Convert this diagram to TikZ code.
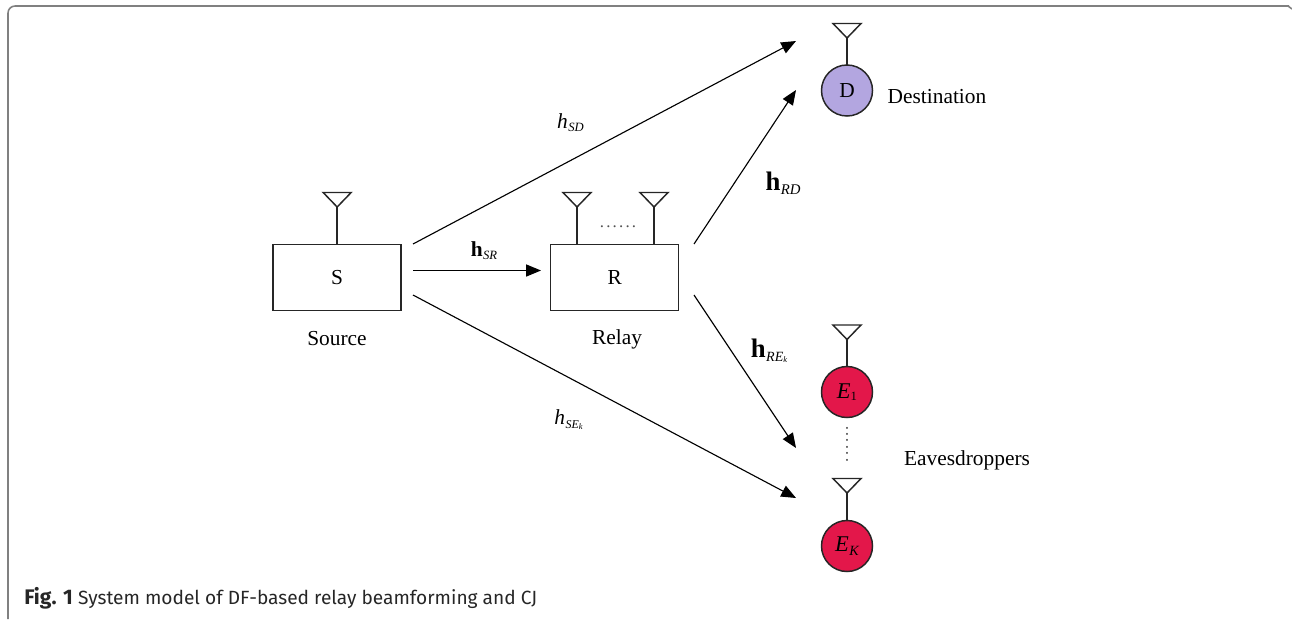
\documentclass[tikz,border=0pt]{standalone}
\usepackage{fontspec}
\setmainfont{Liberation Serif}
\newfontfamily\captionfont{Fira Sans}
\newfontfamily\dotfont[LetterSpace=13]{Liberation Serif}
\usetikzlibrary{arrows.meta}
\definecolor{Lavender}{HTML}{B3A6E0}
\definecolor{Crimson}{HTML}{E3174A}
\definecolor{FrameGray}{HTML}{808080}
\definecolor{Wire}{HTML}{262626}
\newcommand{\chan}[3]{#2\kern0.3pt\lower2.5pt\hbox{\fontsize{#1}{#1}\selectfont\itshape #3}}
\newcommand{\subE}{\lower1pt\hbox{\fontsize{6}{6}\selectfont\itshape k}}
\newcommand{\bigh}{\fontsize{19}{19}\selectfont\textbf{h}}
\newcommand{\antenna}[1]{\draw[wire] (#1) -- ++(-14,-14.5) -- ++(28,0) -- cycle;}
\tikzset{
    x=0.025cm,y=-0.025cm,
    wire/.style={draw=Wire,line width=1.05pt,line join=miter},
    link/.style={draw=black,line width=0.8pt,-{Triangle[length=10.5pt,width=8.5pt]}},
    label/.style={font=\fontsize{15.2}{15.2}\selectfont,text=black,inner sep=0pt},
    box/.style={wire,minimum width=3.2cm,minimum height=1.65cm,label,outer sep=0pt},
    station/.style={wire,circle,minimum size=1.275cm,label,outer sep=0pt},
    dots/.style={font=\dotfont\fontsize{12}{12}\selectfont,text=Wire!80,inner sep=0pt},
}

\begin{document}
\begin{tikzpicture}
    \useasboundingbox (0,0) rectangle (1292,619);
    \draw[FrameGray,line width=1.1pt,rounded corners=5pt] (8,619) -- (8,6) -- (1289,6);
    \draw[FrameGray,line width=1.1pt] (1288,6) -- (1292,9);

    % stations
    \node[box] (S) at (337.15,277.5) {S};
    \node[box] (R) at (614.65,277.5) {R};
    \node[station,fill=Lavender] (D) at (847,90.5) {D};
    \node[station,fill=Crimson] (E1) at (847,392) {\fontsize{16}{16}\selectfont\textit{E}\lower1.5pt\hbox{\fontsize{9}{9}\selectfont 1}};
    \node[station,fill=Crimson] (EK) at (847,546) {\chan{10}{\fontsize{16}{16}\selectfont\textit{E}}{K}};

    % antennas
    \coordinate (antS) at (337.15,207);
    \coordinate (antRa) at (577,207);
    \coordinate (antRb) at (654,207);
    \coordinate (footRa) at (577,244);
    \coordinate (footRb) at (654,244);
    \coordinate (antD) at (847,38);
    \coordinate (antEa) at (847,339.5);
    \coordinate (antEb) at (847,493);
    \draw[wire] (S.north) -- (antS);
    \draw[wire] (footRa) -- (antRa);
    \draw[wire] (footRb) -- (antRb);
    \draw[wire] (D.north) -- (antD);
    \draw[wire] (E1.north) -- (antEa);
    \draw[wire] (EK.north) -- (antEb);
    \antenna{antS}
    \antenna{antRa}
    \antenna{antRb}
    \antenna{antD}
    \antenna{antEa}
    \antenna{antEb}
    \node[dots] (dotsR) at (618,227) {......};
    \node[dots,rotate=90] (dotsE) at (847,444) {......};

    % names
    \node[label] (source) at (337,339) {Source};
    \node[label] (relay) at (617,339) {Relay};
    \node[label] (destination) at (937,96.5) {Destination};
    \node[label] (eaves) at (967,460.5) {Eavesdroppers};

    % links
    \coordinate (sUp) at (413,244);
    \coordinate (sMid) at (413,270.5);
    \coordinate (sLow) at (413,295);
    \coordinate (rUp) at (694,244);
    \coordinate (rLow) at (694,295);
    \coordinate (toD) at (796,41);
    \coordinate (toDb) at (796,90);
    \coordinate (toR) at (541,270.5);
    \coordinate (toE) at (796,448);
    \coordinate (toEb) at (796,498);
    \draw[link] (sUp) -- (toD);
    \draw[link] (rUp) -- (toDb);
    \draw[link] (sMid) -- (toR);
    \draw[link] (rLow) -- (toE);
    \draw[link] (sLow) -- (toEb);

    % channel labels
    \node[label] (hSD) at (570.5,122.5) {\chan{9}{\textit{h}}{SD}};
    \node[label] (hSR) at (484,250.5) {\chan{9}{\textbf{h}}{SR}};
    \node[label] (hRD) at (783,183) {\chan{10.5}{\bigh}{RD}};
    \node[label] (hRE) at (769,351) {\chan{10}{\bigh}{RE\subE}};
    \node[label] (hSE) at (568.5,420) {\chan{8.5}{\textit{h}}{SE\subE}};

    % caption
    \node[anchor=base west,inner sep=0pt,font=\captionfont\fontsize{13.6}{13.6}\selectfont,text=Wire] (caption) at (24,604)
        {{\fontsize{15}{15}\selectfont\textbf{Fig. 1}} System model of DF-based relay beamforming and CJ};
\end{tikzpicture}
\end{document}
